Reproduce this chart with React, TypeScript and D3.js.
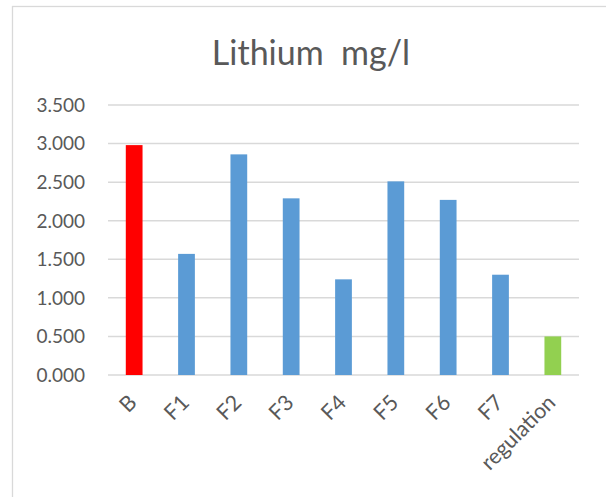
import React from "react";
import * as d3 from "d3";

const categories = ["B", "F1", "F2", "F3", "F4", "F5", "F6", "F7", "regulation"];
const values = [2.98, 1.57, 2.86, 2.29, 1.24, 2.51, 2.27, 1.30, 0.5];
const barColors = ["#FF0000", "#5B9BD5", "#5B9BD5", "#5B9BD5", "#5B9BD5", "#5B9BD5", "#5B9BD5", "#5B9BD5", "#92D050"];
const yTicks = [0, 0.5, 1, 1.5, 2, 2.5, 3, 3.5];
const title = "Lithium\u00A0\u00A0mg/l";

const W = 606, H = 497;
const plot = { left: 108, right: 579, top: 105, bottom: 375 };
const font = "Lato, 'Open Sans', sans-serif";

export default function App() {
  const x = d3.scaleBand<string>().domain(categories).range([plot.left, plot.right]).paddingInner(0.68).paddingOuter(0.34);
  const y = d3.scaleLinear().domain([0, 3.5]).range([plot.bottom, plot.top]);
  const fmt = d3.format(".3f");
  return (
    <svg width={W} height={H} style={{ position: "absolute", left: 0, top: 0, background: "#fff" }}>
      <rect x={12.5} y={6.5} width={W} height={H} fill="#fff" stroke="#d9d9d9" strokeWidth={1.3} />
      <text x={311} y={65} textAnchor="middle" fontFamily={font} fontSize={34} fill="#595959">{title}</text>
      {yTicks.map((t) => (
        <g key={t}>
          <line x1={plot.left} x2={plot.right} y1={y(t)} y2={y(t)} stroke="#d9d9d9" strokeWidth={1.5} />
          <text x={plot.left - 23} y={y(t)} dy="0.36em" textAnchor="end" fontFamily={font} fontSize={19} fill="#595959">{fmt(t)}</text>
        </g>
      ))}
      {categories.map((c, i) => (
        <rect key={c} x={x(c)} y={y(values[i])} width={x.bandwidth()} height={y(0) - y(values[i])} fill={barColors[i]} />
      ))}
      {categories.map((c) => {
        const cx = (x(c) as number) + x.bandwidth() / 2 + 4;
        const cy = plot.bottom + 29;
        return (
          <text key={c} x={cx} y={cy} textAnchor="end" fontFamily={font} fontSize={21.5} fill="#595959" transform={`rotate(-45 ${cx} ${cy})`}>{c}</text>
        );
      })}
    </svg>
  );
}
